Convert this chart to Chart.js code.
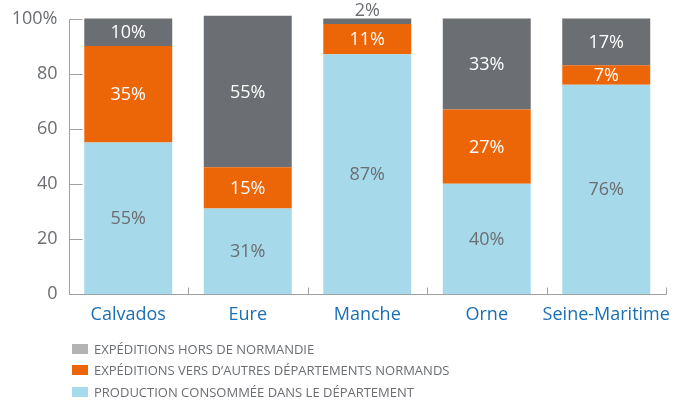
<!DOCTYPE html>
<html><head><meta charset="utf-8">
<script src="https://cdn.jsdelivr.net/npm/chart.js@4"></script>
<style>html,body{margin:0;padding:0;background:#fff}#wrap{width:674px;height:401px;position:relative}</style>
</head><body><div id="wrap"><canvas id="c" width="674" height="401"></canvas></div>
<script>
const categories = ['Calvados','Eure','Manche','Orne','Seine-Maritime'];
const production = [55,31,87,40,76];
const autresNormands = [35,15,11,27,7];
const horsNormandie = [10,55,2,33,17];
const seriesLabels = ['PRODUCTION CONSOMMÉE DANS LE DÉPARTEMENT','EXPÉDITIONS VERS D’AUTRES DÉPARTEMENTS NORMANDS','EXPÉDITIONS HORS DE NORMANDIE'];
const yTicks = [0,20,40,60,80,100];

const FONT = '"Open Sans", sans-serif';
const C = { blue:'#a6d9ea', orange:'#ec6608', gray:'#6b6e72', legendGray:'#b3b3b3', axis:'#a0a0a0', text:'#6b6e72', cat:'#1b6fb5' };
const barColors = [C.blue, C.orange, C.gray];
const legendColors = [C.blue, C.orange, C.legendGray];

const axisPlugin = {
  id:'axisPlugin',
  beforeDatasetsDraw(chart){
    const ctx = chart.ctx, y = chart.scales.y, x = chart.scales.x, a = chart.chartArea;
    ctx.save();
    ctx.strokeStyle = C.axis; ctx.lineWidth = 1;
    const L = Math.round(a.left)+0.5, B = Math.round(y.getPixelForValue(0))+0.5;
    ctx.beginPath();
    ctx.moveTo(L, Math.round(y.getPixelForValue(100))+0.5); ctx.lineTo(L, B);
    ctx.lineTo(Math.round(a.right)+0.5, B);
    yTicks.forEach(v=>{ const py = Math.round(y.getPixelForValue(v))+0.5; ctx.moveTo(L, py); ctx.lineTo(L+13, py); });
    for(let i=0;i<categories.length;i++){
      const bx = i < categories.length-1 ? (x.getPixelForTick(i)+x.getPixelForTick(i+1))/2 : a.right;
      const px = Math.round(bx)+0.5;
      ctx.moveTo(px, B); ctx.lineTo(px, B-7);
    }
    ctx.stroke();
    ctx.restore();
  }
};

const labelPlugin = {
  id:'labelPlugin',
  afterDatasetsDraw(chart){
    const ctx = chart.ctx;
    ctx.save();
    ctx.font = '500 18px ' + FONT;
    ctx.textAlign = 'center'; ctx.textBaseline = 'middle';
    chart.data.datasets.forEach((ds, di)=>{
      const meta = chart.getDatasetMeta(di);
      meta.data.forEach((el, i)=>{
        const v = ds.data[i];
        const h = el.base - el.y;
        const txt = v + '%';
        if (h < 16) { ctx.fillStyle = C.text; ctx.fillText(txt, el.x, el.y - 8); }
        else { ctx.fillStyle = di === 0 ? C.text : '#ffffff'; ctx.fillText(txt, el.x, (el.y + el.base)/2 + 1); }
      });
    });
    ctx.restore();
  }
};

const legendPlugin = {
  id:'legendPlugin',
  afterDraw(chart){
    const ctx = chart.ctx, a = chart.chartArea;
    const order = [2,1,0];
    const offs = [55, 76, 98];
    ctx.save();
    ctx.font = '13px ' + FONT;
    ctx.textAlign = 'left'; ctx.textBaseline = 'middle';
    order.forEach((di, k)=>{
      const cy = a.bottom + offs[k];
      ctx.fillStyle = legendColors[di];
      ctx.fillRect(72, cy-5, 16, 10);
      ctx.fillStyle = C.text;
      ctx.fillText(chart.data.datasets[di].label, 94, cy+1);
    });
    ctx.restore();
  }
};

new Chart(document.getElementById('c'), {
  type:'bar',
  data:{
    labels: categories,
    datasets:[
      {label: seriesLabels[0], data: production, backgroundColor: barColors[0]},
      {label: seriesLabels[1], data: autresNormands, backgroundColor: barColors[1]},
      {label: seriesLabels[2], data: horsNormandie, backgroundColor: barColors[2]}
    ].map(d=>Object.assign(d,{barPercentage:0.736, categoryPercentage:1, borderWidth:0}))
  },
  options:{
    responsive:false, animation:false,
    layout:{padding:{top:13, right:8, left:0, bottom:0}},
    plugins:{legend:{display:false}, tooltip:{enabled:false}},
    scales:{
      x:{stacked:true, grid:{display:false, drawTicks:false}, border:{display:false},
         ticks:{color:C.cat, font:{family:FONT, size:18, weight:'500'}, padding:10, maxRotation:0, autoSkip:false},
         afterFit(s){ s.height = 107; s.paddingLeft = 0; s.paddingRight = 0; }},
      y:{stacked:true, min:0, max:102, grid:{display:false, drawTicks:false}, border:{display:false},
         afterBuildTicks(s){ s.ticks = yTicks.map(v=>({value:v})); },
         ticks:{color:C.text, font:{family:FONT, size:18}, padding:11, callback:(v)=> v===100 ? '100%' : String(v)},
         afterFit(s){ s.width = 68.5; s.paddingTop = 0; s.paddingBottom = 0; }}
    }
  },
  plugins:[axisPlugin, labelPlugin, legendPlugin]
});
</script></body></html>
